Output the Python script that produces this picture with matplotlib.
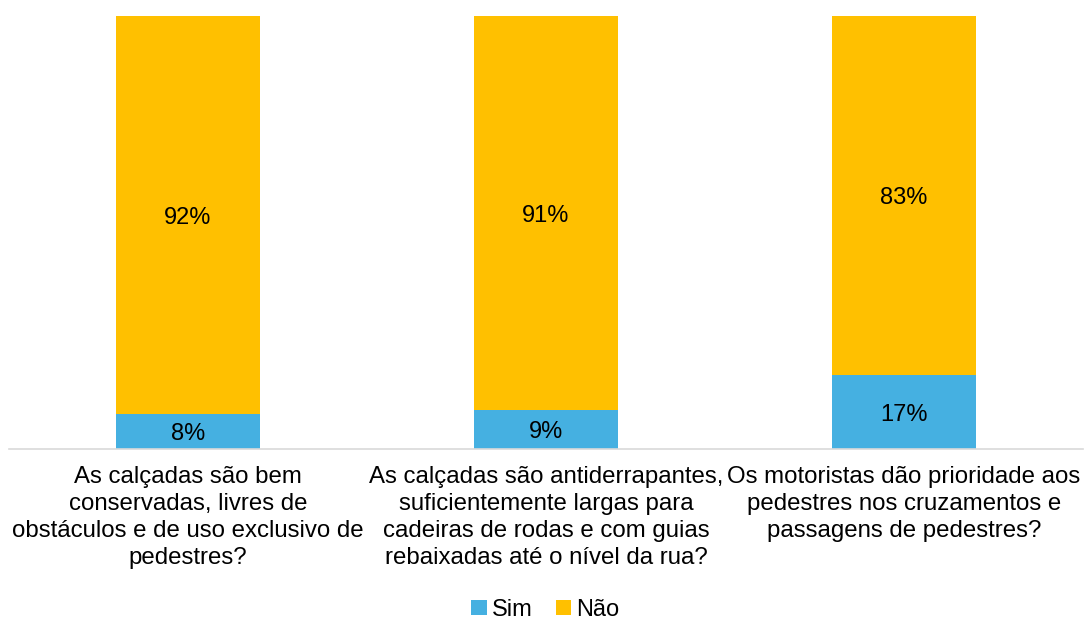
import matplotlib.pyplot as plt

plt.rcParams['font.family'] = ['Liberation Sans', 'DejaVu Sans']

# dados
perguntas = [
    "As calçadas são bem\nconservadas, livres de\nobstáculos e de uso exclusivo de\npedestres?",
    "As calçadas são antiderrapantes,\nsuficientemente largas para\ncadeiras de rodas e com guias\nrebaixadas até o nível da rua?",
    "Os motoristas dão prioridade aos\npedestres nos cruzamentos e\npassagens de pedestres?",
]
sim = [8, 9, 17]
nao = [92, 91, 83]

cor_sim = '#45B0E1'
cor_nao = '#FFC000'

fig = plt.figure(figsize=(10.84, 6.21), dpi=100)
ax = fig.add_axes([0.0083, 0.2770, 0.9908, 0.6972])

x = range(len(perguntas))
b1 = ax.bar(x, sim, width=0.4, color=cor_sim, label='Sim')
b2 = ax.bar(x, nao, width=0.4, bottom=sim, color=cor_nao, label='Não')

for i in x:
    ax.text(i, sim[i] / 2, f"{sim[i]}%", ha='center', va='center_baseline', fontsize=17)
    ax.text(i, sim[i] + nao[i] / 2, f"{nao[i]}%", ha='center', va='center_baseline', fontsize=17)

ax.set_xlim(-0.5, 2.5)
ax.set_ylim(0, 100)
ax.set_yticks([])
ax.set_xticks(list(x))
ax.set_xticklabels(perguntas, fontsize=17.3, linespacing=1.3)
ax.tick_params(axis='x', length=0, pad=12)
for s in ['top', 'left', 'right']:
    ax.spines[s].set_visible(False)
ax.spines['bottom'].set_color('#D9D9D9')
ax.spines['bottom'].set_linewidth(1.2)

fig.legend(handles=[b1, b2], loc='center', bbox_to_anchor=(0.503, 0.018), ncol=2,
           frameon=False, fontsize=17, handlelength=0.65, handleheight=0.65,
           handletextpad=0.2, columnspacing=1.0)

fig.savefig('out.png', dpi=100)
